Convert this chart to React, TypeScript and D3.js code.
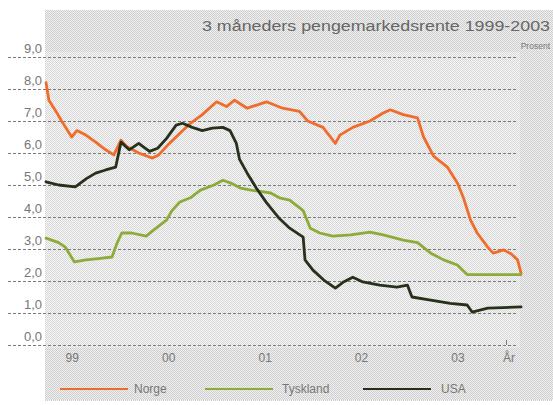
import React from "react";
import * as d3 from "d3";

const W = 553;
const H = 405;

const norge: [string, number][] = [
  ["1999-01-01", 8.2], ["1999-01-12", 7.65], ["1999-02-08", 7.3], ["1999-03-01", 7.0],
  ["1999-03-28", 6.65], ["1999-04-08", 6.5], ["1999-04-28", 6.7], ["1999-06-01", 6.56],
  ["1999-07-08", 6.34], ["1999-08-15", 6.1], ["1999-09-15", 5.94], ["1999-10-12", 6.4],
  ["1999-11-03", 6.2], ["1999-12-18", 6.0], ["2000-02-08", 5.84], ["2000-03-03", 5.94],
  ["2000-04-12", 6.3], ["2000-06-27", 6.9], ["2000-08-15", 7.2], ["2000-10-08", 7.6],
  ["2000-11-15", 7.45], ["2000-12-15", 7.65], ["2001-02-01", 7.4], ["2001-04-15", 7.6],
  ["2001-06-15", 7.4], ["2001-08-18", 7.3], ["2001-09-18", 7.0], ["2001-11-15", 6.8],
  ["2002-01-01", 6.3], ["2002-01-18", 6.56], ["2002-03-08", 6.8], ["2002-05-12", 7.0],
  ["2002-07-01", 7.25], ["2002-07-28", 7.35], ["2002-09-15", 7.2], ["2002-11-08", 7.1],
  ["2002-12-01", 6.5], ["2003-01-08", 5.9], ["2003-03-01", 5.56], ["2003-04-08", 5.06],
  ["2003-05-01", 4.6], ["2003-05-28", 3.9], ["2003-06-22", 3.5], ["2003-08-01", 3.06],
  ["2003-08-22", 2.87], ["2003-10-01", 2.97], ["2003-10-28", 2.85], ["2003-11-22", 2.66],
  ["2003-12-05", 2.25],
];

const tyskland: [string, number][] = [
  ["1999-01-01", 3.34], ["1999-02-18", 3.2], ["1999-03-15", 3.06], ["1999-04-18", 2.6],
  ["1999-06-01", 2.66], ["1999-07-18", 2.7], ["1999-09-08", 2.75], ["1999-09-28", 3.2],
  ["1999-10-15", 3.5], ["1999-11-22", 3.5], ["2000-01-15", 3.4], ["2000-02-22", 3.65],
  ["2000-04-01", 3.9], ["2000-04-22", 4.2], ["2000-05-22", 4.47], ["2000-07-01", 4.6],
  ["2000-08-08", 4.84], ["2000-09-28", 5.0], ["2000-11-01", 5.15], ["2000-12-01", 5.06],
  ["2001-01-08", 4.9], ["2001-02-15", 4.84], ["2001-03-22", 4.8], ["2001-05-01", 4.75],
  ["2001-06-03", 4.6], ["2001-07-12", 4.53], ["2001-09-01", 4.2], ["2001-09-28", 3.65],
  ["2001-11-03", 3.5], ["2001-12-22", 3.4], ["2002-02-28", 3.44], ["2002-05-12", 3.53],
  ["2002-07-01", 3.44], ["2002-09-15", 3.28], ["2002-11-08", 3.2], ["2002-12-28", 2.87],
  ["2003-02-15", 2.66], ["2003-04-08", 2.5], ["2003-05-15", 2.2], ["2003-08-01", 2.2],
  ["2003-12-05", 2.2],
];

const usa: [string, number][] = [
  ["1999-01-01", 5.1], ["1999-02-18", 5.0], ["1999-04-22", 4.94], ["1999-06-03", 5.2],
  ["1999-07-08", 5.37], ["1999-08-15", 5.47], ["1999-09-22", 5.56], ["1999-10-12", 6.34],
  ["1999-11-12", 6.1], ["1999-12-18", 6.3], ["2000-01-28", 6.05], ["2000-02-28", 6.15],
  ["2000-04-01", 6.45], ["2000-05-08", 6.87], ["2000-06-01", 6.93], ["2000-07-08", 6.8],
  ["2000-08-15", 6.7], ["2000-09-22", 6.78], ["2000-11-01", 6.8], ["2000-11-28", 6.7],
  ["2000-12-22", 6.3], ["2001-01-03", 5.8], ["2001-02-01", 5.37], ["2001-03-08", 4.9],
  ["2001-04-15", 4.45], ["2001-06-03", 3.95], ["2001-07-12", 3.65], ["2001-09-01", 3.37],
  ["2001-09-08", 2.66], ["2001-10-08", 2.34], ["2001-11-18", 2.03], ["2002-01-01", 1.78],
  ["2002-02-01", 1.97], ["2002-03-08", 2.12], ["2002-04-15", 1.97], ["2002-06-18", 1.87],
  ["2002-08-22", 1.81], ["2002-10-01", 1.87], ["2002-10-18", 1.5], ["2002-12-28", 1.4],
  ["2003-03-12", 1.3], ["2003-05-15", 1.25], ["2003-06-03", 1.03], ["2003-08-01", 1.15],
  ["2003-12-05", 1.19],
];

const yTicks = [0, 1, 2, 3, 4, 5, 6, 7, 8, 9];
const xTickYears = ["99", "00", "01", "02", "03"];
const xTickDates = ["1999-04-10", "2000-04-10", "2001-04-10", "2002-04-10", "2003-04-10"];

const seriesNames = ["Norge", "Tyskland", "USA"];
const seriesColors = ["#f06c2c", "#8cab38", "#26301b"];
const seriesData = [norge, tyskland, usa];

const title = "3 måneders pengemarkedsrente 1999-2003";
const unit = "Prosent";

const parse = d3.timeParse("%Y-%m-%d");
const fmt = d3.formatLocale({ decimal: ",", thousands: " ", grouping: [3], currency: ["", ""] }).format(".1f");

export default function App() {
  const x = d3.scaleTime()
    .domain([parse("1999-01-01") as Date, parse("2003-12-05") as Date])
    .range([46, 521]);
  const y = d3.scaleLinear().domain([0, 9]).range([345, 57]);

  const line = d3.line<[string, number]>()
    .x((d) => x(parse(d[0]) as Date))
    .y((d) => y(d[1]))
    .curve(d3.curveLinear);

  const textColor = "#777";
  const font = "'Liberation Sans', Arial, sans-serif";

  const legendX = [60, 205, 363];
  const legendTextX = [134, 282, 441];

  return (
    <svg width={W} height={H} style={{ position: "absolute", left: 0, top: 0, background: "#fff" }}>
      <defs>
        <pattern id="chk" width="2" height="2" patternUnits="userSpaceOnUse">
          <rect width="2" height="2" fill="#efefef" />
          <rect x="0" y="0" width="1" height="1" fill="#cfcfcf" />
          <rect x="1" y="1" width="1" height="1" fill="#cfcfcf" />
        </pattern>
        <pattern id="chk2" width="2" height="2" patternUnits="userSpaceOnUse">
          <rect width="2" height="2" fill="#f6f6f6" />
          <rect x="0" y="0" width="1" height="1" fill="#d8d8d8" />
          <rect x="1" y="1" width="1" height="1" fill="#d8d8d8" />
        </pattern>
      </defs>
      <rect x={45} y={10} width={W - 45} height={390} fill="url(#chk)" />
      <rect x={45} y={52} width={475} height={296} fill="url(#chk2)" />
      <line x1={45} x2={W} y1={400.5} y2={400.5} stroke="#b8cde0" strokeDasharray="1,1" />

      <text x={550} y={31} textAnchor="end" fontFamily={font} fontSize={15.5} fill="#666"
        textLength={348} lengthAdjust="spacingAndGlyphs">{title}</text>
      <text x={550} y={49} textAnchor="end" fontFamily={font} fontSize={8.5} fill="#777">{unit}</text>

      {yTicks.map((t) => (
        <g key={t}>
          <line x1={8} x2={517} y1={Math.round(y(t)) + 0.5} y2={Math.round(y(t)) + 0.5}
            stroke="#7a7a7a" strokeWidth={1} strokeDasharray="3,2" />
          <text x={42} y={y(t) - 4} textAnchor="end" fontFamily={font} fontSize={13} fill={textColor}>
            {fmt(t)}
          </text>
        </g>
      ))}

      <line x1={506.5} x2={506.5} y1={y(0) - 5} y2={y(0)} stroke="#7a7a7a" strokeWidth={1} />

      {xTickYears.map((lab, i) => (
        <text key={lab} x={x(parse(xTickDates[i]) as Date)} y={362} textAnchor="middle"
          fontFamily={font} fontSize={12} fill={textColor}>{lab}</text>
      ))}
      <text x={509} y={362} textAnchor="middle" fontFamily={font} fontSize={12} fill={textColor}>År</text>

      {seriesData.map((s, i) => (
        <path key={seriesNames[i]} d={line(s) || ""} fill="none" stroke={seriesColors[i]}
          strokeWidth={2.8} strokeLinejoin="round" strokeLinecap="round" />
      ))}

      {seriesNames.map((n, i) => (
        <g key={n}>
          <line x1={legendX[i]} x2={legendX[i] + 68} y1={389} y2={389} stroke={seriesColors[i]} strokeWidth={2} />
          <text x={legendTextX[i]} y={393} fontFamily={font} fontSize={12} fill={textColor}>{n}</text>
        </g>
      ))}
    </svg>
  );
}
